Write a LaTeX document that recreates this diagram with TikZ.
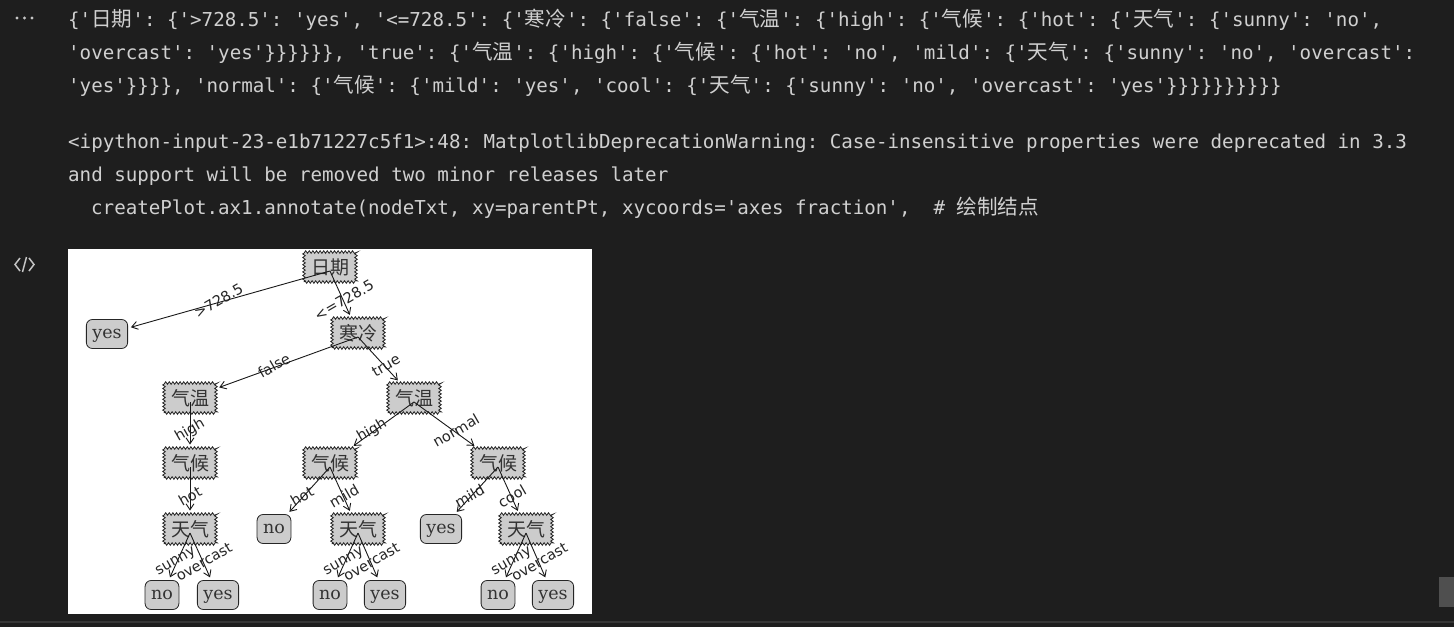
\documentclass[tikz,border=0pt]{standalone}
\usepackage{fontspec}
\usepackage{tikz}
\usetikzlibrary{arrows.meta,calc,decorations.pathmorphing}
\newfontfamily\codefont{DejaVu Sans Mono}
\newfontfamily\cjk{Noto Sans CJK SC}
\newfontfamily\lblfamily{DejaVu Sans}
\newfontfamily\leaffamily{DejaVu Serif}
\definecolor{nbback}{HTML}{1E1E1E}
\definecolor{nbtext}{HTML}{D0D0D0}
\definecolor{nbicon}{HTML}{C5C5C5}
\definecolor{nbbar}{HTML}{4F4F4F}
\definecolor{nbline}{HTML}{363636}
\definecolor{boxgray}{HTML}{CCCCCC}
\newcommand{\zh}[1]{{\cjk\fontsize{20.6}{24}\selectfont #1}}

\tikzset{
  codeline/.style={anchor=base west, inner sep=0pt, text=nbtext,
    font=\codefont\fontsize{19.17}{24}\selectfont\frenchspacing},
  decisionnode/.style={draw=black!85, fill=boxgray, line width=0.8pt,
    minimum width=52pt, minimum height=30pt, inner sep=0pt,
    decorate, decoration={zigzag, segment length=3.6pt, amplitude=1.3pt},
    font=\cjk\fontsize{19}{20}\selectfont, text=black!80},
  leafnode/.style={draw=black!85, fill=boxgray, line width=0.8pt,
    rounded corners=6pt, minimum height=29pt, inner xsep=6pt,
    text height=9.3pt, text depth=0pt,
    font=\leaffamily\fontsize{17.5}{20}\selectfont, text=black!80},
  edgearrow/.style={-{Straight Barb[length=6pt,width=8pt]}, line width=0.9pt,
    draw=black!90, shorten >=3pt},
  edgelabel/.style={rotate=30, inner sep=0pt,
    font=\lblfamily\fontsize{14.5}{15}\selectfont, text=black!85}
}

\begin{document}
\begin{tikzpicture}[x=1pt,y=-1pt]
    % notebook background
    \fill[nbback] (0,0) rectangle (1454,627);
    \useasboundingbox (0,0) rectangle (1454,627);
    \fill[nbline] (0,621) rectangle (1454,623);
    \fill[nbbar] (1439,577) rectangle (1454,607);

    % cell icons
    \foreach \x in {17,24.5,32} {
        \fill[nbicon] (\x,18) circle (1.7pt);
    }
    \draw[nbicon, line width=1.5pt] (20,258) -- (15,264.5) -- (20,271);
    \draw[nbicon, line width=1.5pt] (26.5,257) -- (22.5,272);
    \draw[nbicon, line width=1.5pt] (29,258) -- (34,264.5) -- (29,271);

    % printed output
    \node[codeline] (line1) at (68,26) {\{'\zh{日期}': \{'>728.5': 'yes', '<=728.5': \{'\zh{寒冷}': \{'false': \{'\zh{气温}': \{'high': \{'\zh{气候}': \{'hot': \{'\zh{天气}': \{'sunny': 'no',};
    \node[codeline] (line2) at (68,59) {'overcast': 'yes'\}\}\}\}\}\}, 'true': \{'\zh{气温}': \{'high': \{'\zh{气候}': \{'hot': 'no', 'mild': \{'\zh{天气}': \{'sunny': 'no', 'overcast':};
    \node[codeline] (line3) at (68,92) {'yes'\}\}\}\}, 'normal': \{'\zh{气候}': \{'mild': 'yes', 'cool': \{'\zh{天气}': \{'sunny': 'no', 'overcast': 'yes'\}\}\}\}\}\}\}\}\}\}};
    \node[codeline] (line4) at (68,148) {<ipython-input-23-e1b71227c5f1>:48: MatplotlibDeprecationWarning: Case-insensitive properties were deprecated in 3.3};
    \node[codeline] (line5) at (68,181) {and support will be removed two minor releases later};
    \node[codeline] (line6) at (91,214) {createPlot.ax1.annotate(nodeTxt, xy=parentPt, xycoords='axes fraction',\ \ \# \zh{绘制结点}};

    % tree figure
    \fill[white] (68,249) rectangle (592,614);

    \node[decisionnode] (riqi) at (330,267) {日期};
    \node[leafnode] (yesTop) at (107,334) {yes};
    \node[decisionnode] (hanleng) at (358,333) {寒冷};
    \node[decisionnode] (qiwenL) at (190,398) {气温};
    \node[decisionnode] (qiwenR) at (414,398) {气温};
    \node[decisionnode] (qihouL) at (190,463) {气候};
    \node[decisionnode] (qihouM) at (330,463) {气候};
    \node[decisionnode] (qihouR) at (498,463) {气候};
    \node[decisionnode] (tianqiL) at (190,529) {天气};
    \node[leafnode] (noM) at (274,529) {no};
    \node[decisionnode] (tianqiM) at (358,529) {天气};
    \node[leafnode] (yesR) at (441,529) {yes};
    \node[decisionnode] (tianqiR) at (526,529) {天气};
    \node[leafnode] (noLL) at (162,595) {no};
    \node[leafnode] (yesLL) at (218,595) {yes};
    \node[leafnode] (noMM) at (330,595) {no};
    \node[leafnode] (yesMM) at (385,595) {yes};
    \node[leafnode] (noRR) at (498,595) {no};
    \node[leafnode] (yesRR) at (553,595) {yes};

    % branches
    \draw[edgearrow] ([yshift=-4pt]riqi.center) -- (yesTop);
    \draw[edgearrow] ([yshift=-4pt]riqi.center) -- (hanleng);
    \draw[edgearrow] ([yshift=-4pt]hanleng.center) -- (qiwenL);
    \draw[edgearrow] ([yshift=-4pt]hanleng.center) -- (qiwenR);
    \draw[edgearrow] ([yshift=-4pt]qiwenL.center) -- (qihouL);
    \draw[edgearrow] ([yshift=-4pt]qihouL.center) -- (tianqiL);
    \draw[edgearrow] ([yshift=-4pt]tianqiL.center) -- (noLL);
    \draw[edgearrow] ([yshift=-4pt]tianqiL.center) -- (yesLL);
    \draw[edgearrow] ([yshift=-4pt]qiwenR.center) -- (qihouM);
    \draw[edgearrow] ([yshift=-4pt]qiwenR.center) -- (qihouR);
    \draw[edgearrow] ([yshift=-4pt]qihouM.center) -- (noM);
    \draw[edgearrow] ([yshift=-4pt]qihouM.center) -- (tianqiM);
    \draw[edgearrow] ([yshift=-4pt]tianqiM.center) -- (noMM);
    \draw[edgearrow] ([yshift=-4pt]tianqiM.center) -- (yesMM);
    \draw[edgearrow] ([yshift=-4pt]qihouR.center) -- (yesR);
    \draw[edgearrow] ([yshift=-4pt]qihouR.center) -- (tianqiR);
    \draw[edgearrow] ([yshift=-4pt]tianqiR.center) -- (noRR);
    \draw[edgearrow] ([yshift=-4pt]tianqiR.center) -- (yesRR);

    % branch values
    \node[edgelabel] (lblA) at ($(riqi)!0.5!(yesTop)$) {>728.5};
    \node[edgelabel] (lblB) at ($(riqi)!0.5!(hanleng)$) {<=728.5};
    \node[edgelabel] (lblC) at ($(hanleng)!0.5!(qiwenL)$) {false};
    \node[edgelabel] (lblD) at ($(hanleng)!0.5!(qiwenR)$) {true};
    \node[edgelabel] (lblE) at ($(qiwenL)!0.5!(qihouL)$) {high};
    \node[edgelabel] (lblF) at ($(qihouL)!0.5!(tianqiL)$) {hot};
    \node[edgelabel] (lblG) at ($(tianqiL)!0.5!(noLL)$) {sunny};
    \node[edgelabel] (lblH) at ($(tianqiL)!0.5!(yesLL)$) {overcast};
    \node[edgelabel] (lblI) at ($(qiwenR)!0.5!(qihouM)$) {high};
    \node[edgelabel] (lblJ) at ($(qiwenR)!0.5!(qihouR)$) {normal};
    \node[edgelabel] (lblK) at ($(qihouM)!0.5!(noM)$) {hot};
    \node[edgelabel] (lblL) at ($(qihouM)!0.5!(tianqiM)$) {mild};
    \node[edgelabel] (lblM) at ($(tianqiM)!0.5!(noMM)$) {sunny};
    \node[edgelabel] (lblN) at ($(tianqiM)!0.5!(yesMM)$) {overcast};
    \node[edgelabel] (lblO) at ($(qihouR)!0.5!(yesR)$) {mild};
    \node[edgelabel] (lblP) at ($(qihouR)!0.5!(tianqiR)$) {cool};
    \node[edgelabel] (lblQ) at ($(tianqiR)!0.5!(noRR)$) {sunny};
    \node[edgelabel] (lblR) at ($(tianqiR)!0.5!(yesRR)$) {overcast};
\end{tikzpicture}
\end{document}
